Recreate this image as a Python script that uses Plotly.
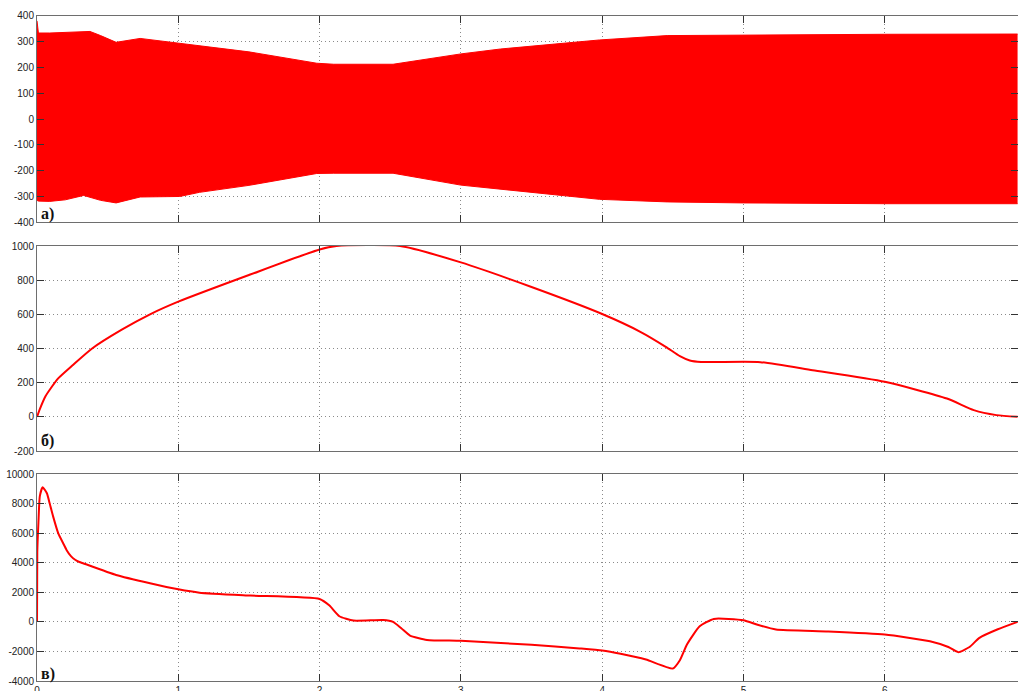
import plotly.graph_objects as go

# ---- panel a) phase current envelope (upper / lower peaks of the 50 Hz signal)
t_env = [0, 0.01, 0.09, 0.2, 0.33, 0.375, 0.45, 0.56, 0.73, 1.01, 1.15, 1.5,
         1.98, 2.1, 2.52, 3.0, 3.28, 3.98, 4.46, 5.0, 6.0, 6.94]
i_upper = [380, 333, 333, 335, 338, 339, 323, 297, 312, 293, 284, 260,
           216, 212, 212, 252, 271, 306, 323, 325, 328, 329]
i_lower = [-315, -318, -319, -313, -296, -303, -315, -325, -302, -300, -284, -257,
           -211, -210, -210, -256, -272, -311, -321, -325, -328, -328]

# ---- panel б) rotor speed
t_speed = [0, 0.02, 0.06, 0.1, 0.15, 0.25, 0.39, 0.6, 0.8, 1.0, 1.5, 2.0, 2.12,
           2.57, 3.0, 3.5, 4.0, 4.27, 4.45, 4.55, 4.62, 4.7, 5.12, 5.49, 6.0,
           6.44, 6.63, 6.79, 6.94]
speed = [0, 45, 120, 170, 225, 300, 400, 510, 600, 674, 830, 980, 1000,
         1000, 904, 760, 602, 498, 410, 355, 330, 321, 320, 273, 205,
         107, 39, 10, 0]

# ---- panel в) electromagnetic torque
t_torque = [0, 0.002, 0.01, 0.02, 0.04, 0.07, 0.09, 0.115, 0.15, 0.186, 0.21, 0.24,
            0.27, 0.30, 0.33, 0.56, 0.8, 1.0, 1.15, 1.51, 2.0, 2.07, 2.14, 2.24,
            2.45, 2.52, 2.58, 2.64, 2.76, 3.0, 3.5, 3.84, 4.0, 4.13, 4.31, 4.5,
            4.55, 4.6, 4.69, 4.79, 5.0, 5.1, 5.23, 5.6, 6.0, 6.32, 6.45, 6.52,
            6.6, 6.67, 6.8, 6.94]
torque = [0, 4700, 6700, 8500, 9100, 8700, 8000, 7100, 6000, 5300, 4850, 4450,
          4200, 4050, 3950, 3170, 2610, 2200, 1975, 1780, 1550, 1100, 380, 90,
          130, 0, -450, -925, -1220, -1285, -1550, -1800, -1940, -2160, -2550, -3160,
          -2600, -1530, -300, 200, 110, -200, -520, -650, -860, -1310, -1700, -2050,
          -1700, -1080, -500, 0]

x_ticks = [0, 1, 2, 3, 4, 5, 6]
y1_ticks = [-400, -300, -200, -100, 0, 100, 200, 300, 400]
y2_ticks = [-200, 0, 200, 400, 600, 800, 1000]
y3_ticks = [-4000, -2000, 0, 2000, 4000, 6000, 8000, 10000]
panel_labels = ["a)", "б)", "в)"]

RED = "#ff0000"
W, H = 1018, 691
X_MAX = 6.943


def hyphen(vals):
    return [str(v) for v in vals]


fig = go.Figure()

# panel a: band between upper and lower envelope
fig.add_trace(go.Scatter(x=t_env, y=i_lower, mode="lines",
                         line=dict(color=RED, width=1), xaxis="x", yaxis="y",
                         hoverinfo="skip", showlegend=False))
fig.add_trace(go.Scatter(x=t_env, y=i_upper, mode="lines", fill="tonexty",
                         fillcolor=RED, line=dict(color=RED, width=1),
                         xaxis="x", yaxis="y", showlegend=False))

fig.add_trace(go.Scatter(x=t_speed, y=speed, mode="lines",
                         line=dict(color=RED, width=2, shape="spline", smoothing=0.6),
                         xaxis="x2", yaxis="y2", showlegend=False))

fig.add_trace(go.Scatter(x=t_torque, y=torque, mode="lines",
                         line=dict(color=RED, width=2, shape="spline", smoothing=0.5),
                         xaxis="x3", yaxis="y3", showlegend=False))

# pixel rows of each panel (top, bottom)
panels = [(15.7, 222.3), (246, 451), (474, 681)]
doms = [[1 - b / H, 1 - t / H] for t, b in panels]

axis_font = dict(family="Liberation Sans, Arial", size=10, color="#222")
grid = dict(showgrid=True, gridcolor="#8a8a8a", griddash="1px,3px", gridwidth=1,
            zeroline=False, showline=True, linecolor="#6e6e6e", linewidth=1,
            ticks="inside", ticklen=7, tickcolor="#333", tickwidth=1,
            mirror="ticks", tickfont=axis_font)

layout = dict(width=W, height=H, margin=dict(l=37, r=0, t=0, b=0),
              paper_bgcolor="white", plot_bgcolor="white", showlegend=False)

y_specs = [([-400, 400], y1_ticks), ([-200, 1000], y2_ticks), ([-4000, 10000], y3_ticks)]
for i in range(3):
    sx = "" if i == 0 else str(i + 1)
    layout["xaxis" + sx] = dict(domain=[0, 1], range=[0, X_MAX], anchor="y" + sx,
                                tickvals=x_ticks, ticktext=hyphen(x_ticks),
                                showticklabels=(i == 2), automargin=False, **grid)
    rng, tv = y_specs[i]
    layout["yaxis" + sx] = dict(domain=doms[i], range=rng, anchor="x" + sx,
                                tickvals=tv, ticktext=hyphen(tv), automargin=False,
                                **grid)

fig.update_layout(**layout)

label_y = [214, 441, 674]
for lab, py in zip(panel_labels, label_y):
    fig.add_annotation(text="<b>" + lab + "</b>", xref="paper", yref="paper",
                       x=(39 - 37) / (W - 37), y=1 - py / H, xanchor="left",
                       yanchor="middle", showarrow=False,
                       font=dict(family="Liberation Serif, Times New Roman", size=16,
                                 color="#111"))

fig.write_html("out.html")
